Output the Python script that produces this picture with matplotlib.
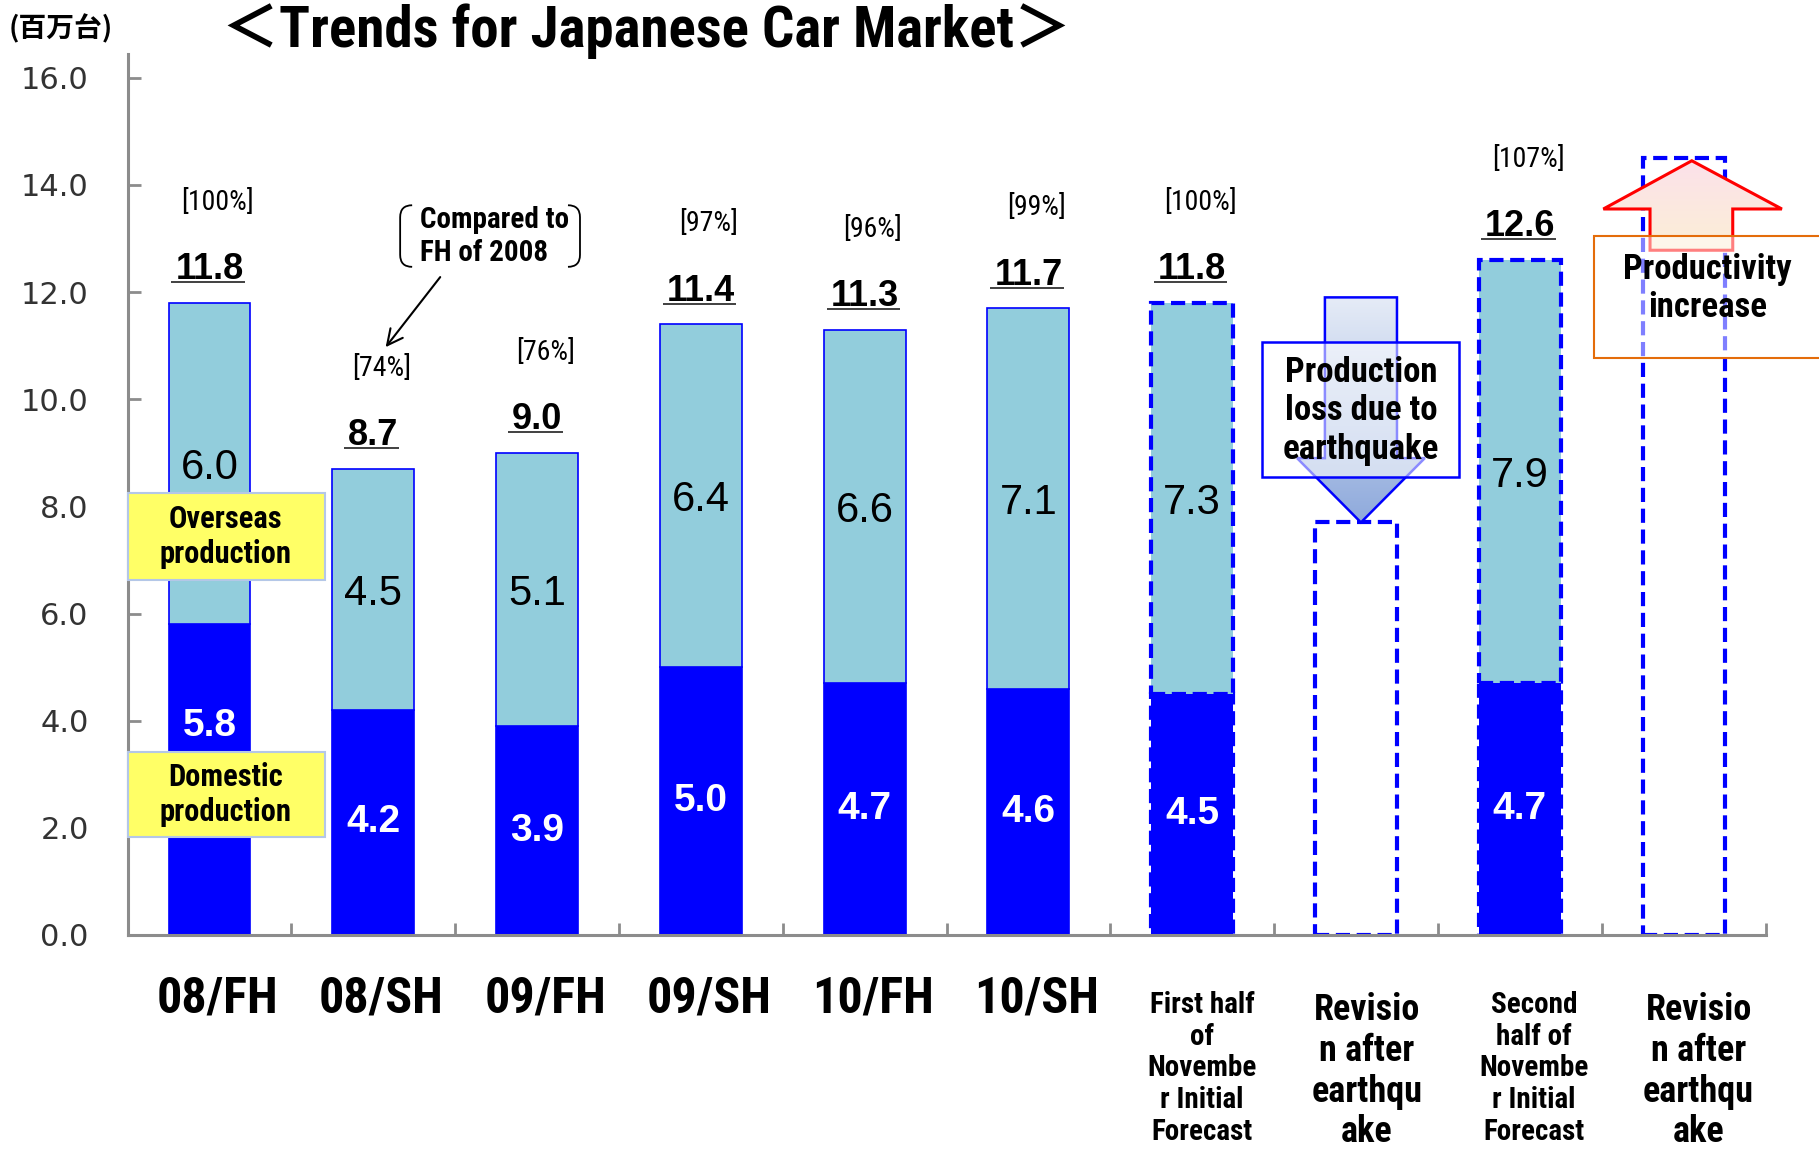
import numpy as np
import matplotlib
matplotlib.use("Agg")
import matplotlib.pyplot as plt
from matplotlib.patches import Rectangle, Polygon, PathPatch
from matplotlib.path import Path
from matplotlib.colors import LinearSegmentedColormap

# ---------------- data ----------------
categories = ["08/FH", "08/SH", "09/FH", "09/SH", "10/FH", "10/SH",
              "First half\nof\nNovembe\nr Initial\nForecast",
              "Revisio\nn after\nearthqu\nake",
              "Second\nhalf of\nNovembe\nr Initial\nForecast",
              "Revisio\nn after\nearthqu\nake"]
domestic = [5.8, 4.2, 3.9, 5.0, 4.7, 4.6, 4.5, None, 4.7, None]
overseas = [6.0, 4.5, 5.1, 6.4, 6.6, 7.1, 7.3, None, 7.9, None]
totals = [11.8, 8.7, 9.0, 11.4, 11.3, 11.7, 11.8, None, 12.6, None]
ratio_labels = ["[100%]", "[74%]", "[76%]", "[97%]", "[96%]", "[99%]",
                "[100%]", None, "[107%]", None]
revised_totals = [None, None, None, None, None, None, None, 7.7, None, 14.5]
is_forecast = [False] * 6 + [True] * 4
y_ticks = [0, 2, 4, 6, 8, 10, 12, 14, 16]
y_tick_labels = ["0.0", "2.0", "4.0", "6.0", "8.0", "10.0", "12.0", "14.0", "16.0"]
title = "＜Trends for Japanese Car Market＞"
unit_label = "(百万台)"

# ---------------- style ----------------
W, H, DPI = 1819, 1154, 100
BLUE = "#0000FF"
LIGHT = "#92CDDC"
GRAY = "#8C8C8C"
NARROW = ["Roboto Condensed", "Noto Sans CJK JP", "DejaVu Sans"]
ARIAL = ["Liberation Sans", "DejaVu Sans"]
DASH = (0, (3.4, 1.6))

fig = plt.figure(figsize=(W / DPI, H / DPI), dpi=DPI)
ax = fig.add_axes([127.6 / W, 219 / H, (1765.5 - 127.6) / W, (935 - 53.6) / H])
ax.set_xlim(-0.5, 9.5)
ax.set_ylim(0, 16.45)

for s in ["top", "right"]:
    ax.spines[s].set_visible(False)
for s in ["left", "bottom"]:
    ax.spines[s].set_color(GRAY)
    ax.spines[s].set_linewidth(2.2)

ax.set_yticks(y_ticks)
ax.set_yticklabels(y_tick_labels, fontfamily="DejaVu Sans", fontsize=22, color="#333333")
ax.tick_params(axis="y", direction="in", length=9, width=2, color=GRAY, pad=28)
ax.set_xticks(np.arange(0.5, 9.6, 1.0))
ax.set_xticklabels([])
ax.tick_params(axis="x", direction="in", length=9, width=2, color=GRAY)

# ---------------- bars ----------------
x = np.arange(len(categories))
for i in x:
    ls = DASH if is_forecast[i] else "-"
    lw = 3.0 if is_forecast[i] else 1.2
    if domestic[i] is not None:
        ax.bar(i, domestic[i], width=0.5, color=BLUE, edgecolor=BLUE,
               linewidth=lw, linestyle=ls, zorder=2)
        ax.bar(i, overseas[i], bottom=domestic[i], width=0.5, color=LIGHT,
               edgecolor=BLUE, linewidth=lw, linestyle=ls, zorder=2)
    if revised_totals[i] is not None:
        ax.bar(i, revised_totals[i], width=0.5, color="white", edgecolor=BLUE,
               linewidth=lw, linestyle=ls, zorder=2)

# segment labels
total_texts = []
for i in x:
    if domestic[i] is None:
        continue
    dy = domestic[i] / 2 if i != 0 else 3.9   # first label lifted clear of legend box
    ax.text(i, dy, f"{domestic[i]:.1f}", ha="center", va="center", color="white",
            fontsize=28, fontweight="bold", fontfamily=ARIAL, zorder=4)
    ax.text(i, domestic[i] + overseas[i] / 2 - 0.08, f"{overseas[i]:.1f}", ha="center",
            va="center", color="black", fontsize=30, fontfamily=ARIAL, zorder=4)
    t = ax.text(i, totals[i] + 0.44, f"{totals[i]:.1f}", ha="center", va="baseline",
                color="black", fontsize=26, fontweight="bold", fontfamily=ARIAL, zorder=4)
    total_texts.append((t, i, totals[i] + 0.44))
    ax.text(i + 0.05, totals[i] + 1.87, ratio_labels[i], ha="center", va="center",
            color="black", fontsize=20, fontfamily=NARROW, zorder=4)

# ---------------- overlay for annotations ----------------
ov = fig.add_axes([0, 0, 1, 1])
ov.set_xlim(0, W)
ov.set_ylim(0, H)
ov.set_autoscale_on(False)
ov.axis("off")


def P(xx, yy):
    return tuple(ax.transData.transform((xx, yy)))


def box(x0, y0, x1, y1, fc, ec, lw, z=5):
    (a, b), (c, d) = P(x0, y0), P(x1, y1)
    r = Rectangle((a, b), c - a, d - b, facecolor=fc, edgecolor=ec, linewidth=lw, zorder=z)
    ov.add_patch(r)
    return r


def grad_poly(pts, c_top, c_bot, ec, lw, z=5):
    poly = Polygon(pts, closed=True, facecolor="none", edgecolor=ec, linewidth=lw,
                   zorder=z + 0.1, joinstyle="miter")
    ov.add_patch(poly)
    xs = [p[0] for p in pts]
    ys = [p[1] for p in pts]
    cmap = LinearSegmentedColormap.from_list("g", [c_top, c_bot])
    im = ov.imshow(np.linspace(0, 1, 256).reshape(-1, 1), cmap=cmap,
                   extent=[min(xs), max(xs), min(ys), max(ys)], origin="upper",
                   aspect="auto", zorder=z, interpolation="bilinear")
    im.set_clip_path(poly)


# legend boxes
box(-0.5, 6.62, 0.704, 8.25, "#FFFF66", "#B4C7E7", 1.5)
ov.text(*P(0.1, 7.43), "Overseas\nproduction", ha="center", va="center", fontsize=22,
        fontweight="bold", fontfamily=NARROW, zorder=6)
box(-0.5, 1.82, 0.704, 3.42, "#FFFF66", "#B4C7E7", 1.5)
ov.text(*P(0.1, 2.62), "Domestic\nproduction", ha="center", va="center", fontsize=22,
        fontweight="bold", fontfamily=NARROW, zorder=6)

# "Compared to FH of 2008" bracket pair
(bx0, by0), (bx1, by1) = P(1.164, 12.47), P(2.262, 13.62)
r = 12
verts = [(bx0 + r, by1), (bx0, by1), (bx0, by1 - r), (bx0, by0 + r), (bx0, by0), (bx0 + r, by0)]
codes = [Path.MOVETO, Path.CURVE3, Path.CURVE3, Path.LINETO, Path.CURVE3, Path.CURVE3]
ov.add_patch(PathPatch(Path(verts, codes), fill=False, edgecolor="black", lw=1.3, zorder=6))
verts = [(bx1 - r, by1), (bx1, by1), (bx1, by1 - r), (bx1, by0 + r), (bx1, by0), (bx1 - r, by0)]
ov.add_patch(PathPatch(Path(verts, codes), fill=False, edgecolor="black", lw=1.3, zorder=6))
ov.text(*P(1.285, 13.04), "Compared to\nFH of 2008", ha="left", va="center", fontsize=21,
        fontweight="bold", fontfamily=NARROW, zorder=6)
ov.annotate("", xy=P(1.065, 10.93), xytext=P(1.419, 12.32),
            arrowprops=dict(arrowstyle="->", lw=1.5, color="black", mutation_scale=28),
            zorder=6)

# blue down arrow: from first-half forecast level to revised level
cx = 7.03
top = totals[6] + 0.1
tip = revised_totals[7]
pts = [P(6.81, top), P(7.25, top), P(7.25, 8.9), P(7.42, 8.9), P(cx, tip),
       P(6.64, 8.9), P(6.81, 8.9)]
grad_poly(pts, "#E6ECF7", "#8FAADC", BLUE, 1.8, z=5)
box(6.424, 8.55, 7.63, 11.06, (1, 1, 1, 0.55), BLUE, 1.8, z=6)
ov.text(*P(7.03, 9.78), "Production\nloss due to\nearthquake", ha="center", va="center",
        fontsize=25, fontweight="bold", fontfamily=NARROW, zorder=7)

# red up arrow: productivity increase
cx = 9.05
tip = revised_totals[9] - 0.05
pts = [P(cx, tip), P(9.60, 13.55), P(9.30, 13.55), P(9.30, 12.78), P(8.795, 12.78),
       P(8.795, 13.55), P(8.51, 13.55)]
grad_poly(pts, "#FCE1EA", "#FBEFD6", "#FF0000", 2.2, z=5)
(ox0, oy0), (_, oy1) = P(8.452, 10.76), P(8.452, 13.05)
ov.add_patch(Rectangle((ox0, oy0), W + 20 - ox0, oy1 - oy0, facecolor=(1, 1, 1, 0.5),
                       edgecolor="#E46C0A", linewidth=1.5, zorder=6))
ov.text(*P(9.146, 12.07), "Productivity\nincrease", ha="center", va="center",
        fontsize=25, fontweight="bold", fontfamily=NARROW, zorder=7)

# category labels
for i, lab in enumerate(categories):
    px, py = P(i, 0)
    if "\n" not in lab:
        ov.text(px + 8, py - 64, lab, ha="center", va="center", fontsize=36,
                fontweight="bold", fontfamily=NARROW)
    elif lab.startswith("Revisio"):
        ov.text(px + 11 + (i - 7) * 2, py - 57, lab, ha="center", va="top", fontsize=26,
                fontweight="bold", fontfamily=NARROW, linespacing=1.17)
    else:
        ov.text(px + 10 + (i - 6) * 2, py - 56, lab, ha="center", va="top", fontsize=21,
                fontweight="bold", fontfamily=NARROW, linespacing=1.17)

# title and unit
fig.text(222 / W, 1 - 31 / H, title, ha="left", va="center", fontsize=41,
         fontweight="bold", fontfamily=NARROW)
fig.text(9 / W, 1 - 29 / H, unit_label, ha="left", va="center", fontsize=20,
         fontweight="bold", fontfamily=["Noto Sans CJK JP", "DejaVu Sans"])

# underline the totals
fig.canvas.draw()
rend = fig.canvas.get_renderer()
for t, i, yb in total_texts:
    bb = t.get_window_extent(rend)
    base = P(i, yb)[1]
    ov.plot([bb.x0 - 4, bb.x1 + 1], [base - 3, base - 3], color="#404040", lw=1.4,
            solid_capstyle="butt", zorder=6)

ov.set_xlim(0, W)
ov.set_ylim(0, H)
fig.savefig("out.png", dpi=DPI)
